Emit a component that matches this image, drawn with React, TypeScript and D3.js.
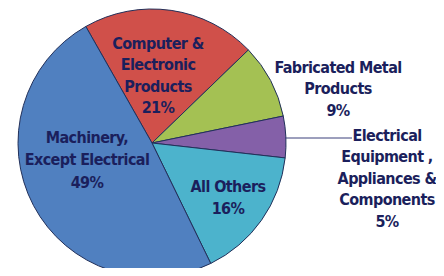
import { useEffect, useRef } from "react";
import * as d3 from "d3";

const categories = [
  "Computer & Electronic Products",
  "Fabricated Metal Products",
  "Electrical Equipment, Appliances & Components",
  "All Others",
  "Machinery, Except Electrical",
];
const shares = [21, 9, 5, 16, 49];
const colors = ["#d0504a", "#a4c153", "#8460a8", "#4cb3cc", "#5080c0"];
// label text lines per slice
const labelLines = [
  ["Computer &", "Electronic", "Products", "21%"],
  ["Fabricated Metal", "Products", "9%"],
  ["Electrical", "Equipment ,", "Appliances &", "Components", "5%"],
  ["All Others", "16%"],
  ["Machinery,", "Except Electrical", "49%"],
];

export default function App() {
  const ref = useRef<SVGSVGElement | null>(null);

  useEffect(() => {
    const width = 444,
      height = 276;
    const cx = 152,
      cy = 143,
      R = 134;
    const ink = "#1b1f5c";

    const svg = d3.select(ref.current).attr("width", width).attr("height", height);
    svg.selectAll("*").remove();
    svg.append("rect").attr("width", width).attr("height", height).attr("fill", "#fff");

    const data = categories.map((c, i) => ({ name: c, value: shares[i], color: colors[i], lines: labelLines[i] }));

    const pie = d3
      .pie<any>()
      .sort(null)
      .value((d) => d.value)
      .startAngle((-29.6 * Math.PI) / 180)
      .endAngle((-29.6 * Math.PI) / 180 + 2 * Math.PI);
    const arc = d3.arc<any>().innerRadius(0).outerRadius(R);

    const g = svg.append("g").attr("transform", `translate(${cx},${cy})`);
    g.selectAll("path")
      .data(pie(data))
      .join("path")
      .attr("d", arc)
      .attr("fill", (d) => d.data.color)
      .attr("stroke", "#22305a")
      .attr("stroke-width", 1);

    // label anchors (centre x, first line y), offsets from pie centre
    const anchors: [number, number][] = [
      [6, -100],
      [186, -76],
      [235, -8],
      [76, 43],
      [-65, -6],
    ];
    const lineH = [21.5, 21.5, 21.5, 22, 22.5];

    data.forEach((d, i) => {
      const t = g
        .append("text")
        .attr("text-anchor", "middle")
        .attr("fill", ink)
        .style("font-family", "'DejaVu Sans Condensed', 'DejaVu Sans', sans-serif")
        .style("font-stretch", "condensed")
        .style("font-weight", "bold")
        .style("font-size", "16px")
        .style("letter-spacing", "-0.6px");
      d.lines.forEach((ln, j) => {
        t.append("tspan")
          .attr("x", anchors[i][0])
          .attr("y", anchors[i][1] + j * lineH[i])
          .attr("dy", "0.35em")
          .text(ln);
      });
    });

    // leader line for the small purple slice
    g.append("line")
      .attr("x1", 133)
      .attr("x2", 200)
      .attr("y1", -5)
      .attr("y2", -5)
      .attr("stroke", "#3a3f7a")
      .attr("stroke-width", 1);
  }, []);

  return (
    <div style={{ margin: -8 }}>
      <svg ref={ref} style={{ display: "block" }} />
    </div>
  );
}
